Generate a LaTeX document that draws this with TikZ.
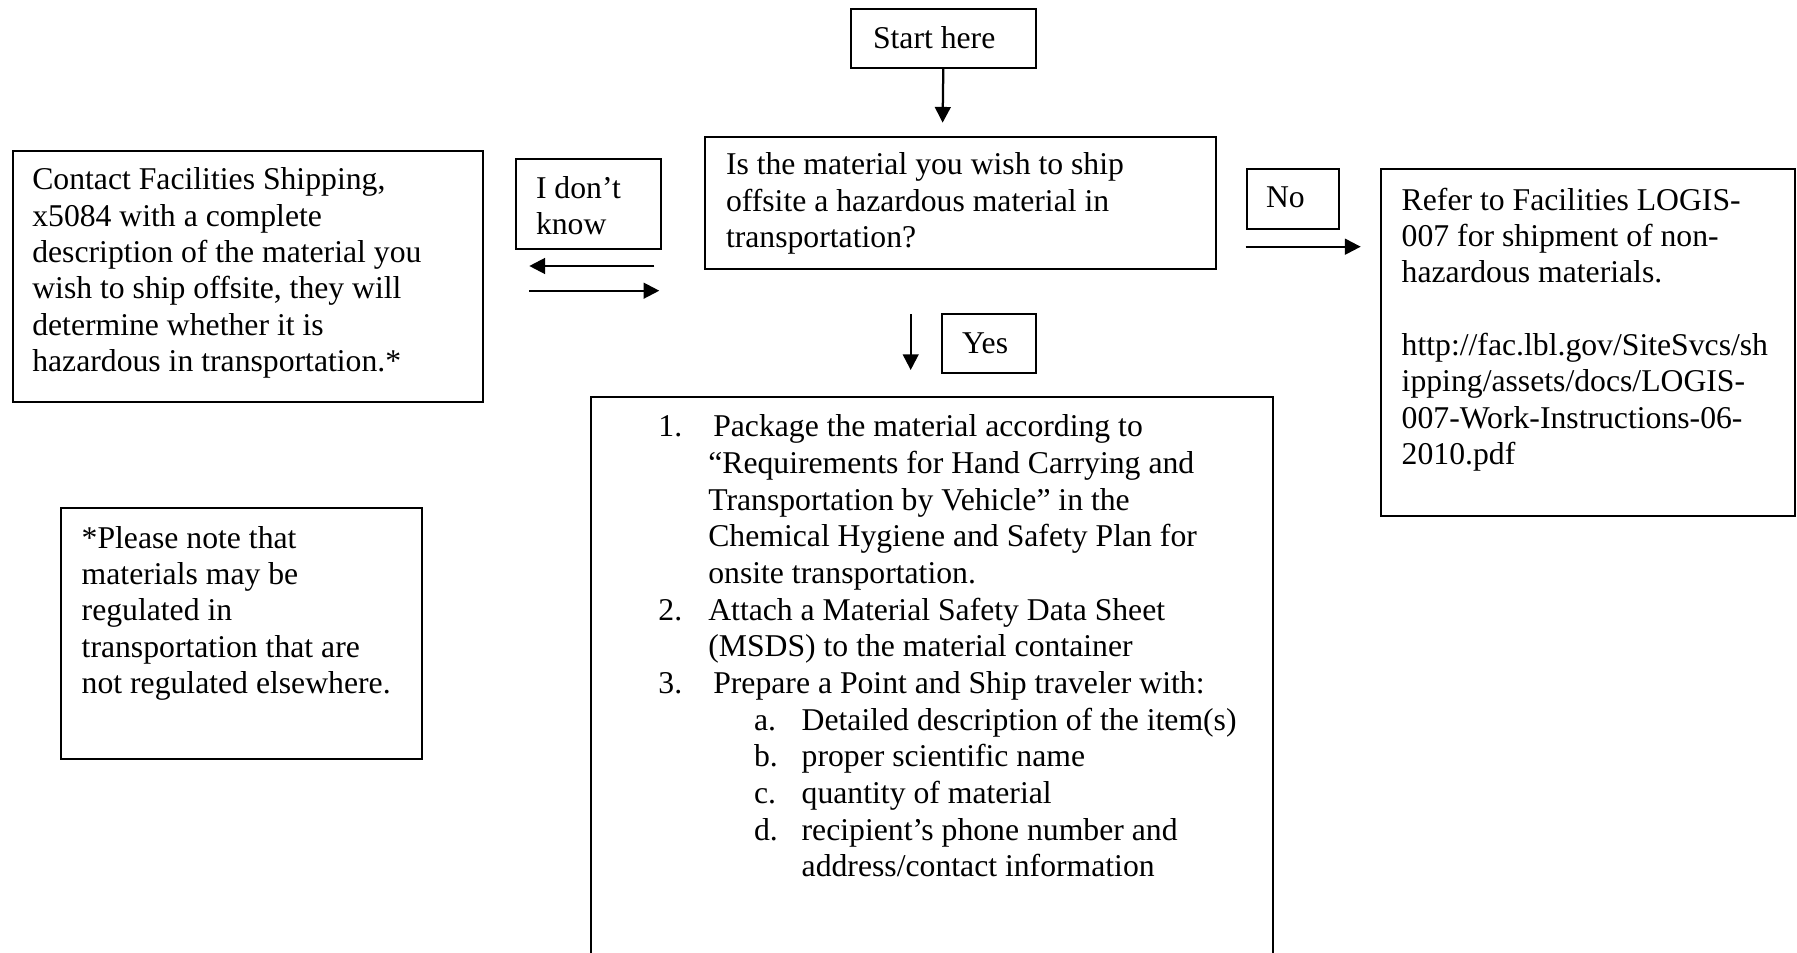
\documentclass[tikz,border=0pt]{standalone}
\usepackage{fontspec}
\setmainfont{Liberation Serif}[Ligatures=CommonOff]
\usetikzlibrary{arrows.meta}
\newcommand{\ft}{\fontsize{12.68pt}{14.52pt}\selectfont}
\newcommand{\fl}{\fontsize{12.68pt}{14.67pt}\selectfont}
\tikzset{
  box/.style={draw, line width=0.8pt, inner sep=0pt, anchor=north west},
  arr/.style={-{Triangle[length=6.3pt,width=6.3pt]}, line width=0.9pt},
  txt/.style={anchor=base west, inner sep=0pt, outer sep=0pt},
}
\begin{document}
\begin{tikzpicture}[x=0.4pt, y=-0.4pt]
\useasboundingbox (0,0) rectangle (1797,952);
% boxes
\node[box, minimum width=74.16pt, minimum height=23.36pt] (start) at (849.6,8.3) {};
\node[box, minimum width=204.4pt, minimum height=52.68pt] (question) at (704,136) {};
\node[box, minimum width=58pt, minimum height=35.76pt] (dontknow) at (515,158.3) {};
\node[box, minimum width=188.24pt, minimum height=100.28pt] (contact) at (11.7,150) {};
\node[box, minimum width=37pt, minimum height=24pt] (no) at (1245.5,167.7) {};
\node[box, minimum width=165.6pt, minimum height=138.68pt] (refer) at (1380,168.3) {};
\node[box, minimum width=37.44pt, minimum height=23.36pt] (yes) at (941.4,313.3) {};
\node[box, minimum width=273pt, minimum height=224pt] (steps) at (589.5,396) {};
\node[box, minimum width=144.4pt, minimum height=100.4pt] (note) at (60,507.3) {};
% texts
\node[txt] (tstart) at (873,48.3) {\ft Start here};
\node[txt] (tq) at (726,175) {\parbox[t]{300pt}{\raggedright\ft Is the material you wish to ship\\offsite a hazardous material in\\transportation?}};
\node[txt] (tdk) at (536,198.3) {\parbox[t]{100pt}{\raggedright\ft I don’t\\know}};
\node[txt] (tcontact) at (32.3,190) {\parbox[t]{300pt}{\raggedright\ft Contact Facilities Shipping,\\x5084 with a complete\\description of the material you\\wish to ship offsite, they will\\determine whether it is\\hazardous in transportation.*}};
\node[txt] (tno) at (1266,207.7) {\ft No};
\node[txt] (tyes) at (962,353.3) {\ft Yes};
\node[txt] (trefer) at (1401.7,210.3) {\parbox[t]{300pt}{\raggedright\ft Refer to Facilities LOGIS-\\007 for shipment of non-\\hazardous materials.\\[14.52pt]http://fac.lbl.gov/SiteSvcs/sh\\ipping/assets/docs/LOGIS-\\007-Work-Instructions-06-\\2010.pdf}};
\node[txt] (tnote) at (81.7,548.3) {\parbox[t]{300pt}{\raggedright\ft *Please note that\\materials may be\\regulated in\\transportation that are\\not regulated elsewhere.}};
\node[txt] (tsteps) at (658.4,436.7) {\parbox[t]{400pt}{\raggedright\fl
\makebox[19.96pt][l]{1.}\hspace{2pt}Package the material according to\\
\hspace*{19.96pt}“Requirements for Hand Carrying and\\
\hspace*{19.96pt}Transportation by Vehicle” in the\\
\hspace*{19.96pt}Chemical Hygiene and Safety Plan for\\
\hspace*{19.96pt}onsite transportation.\\
\makebox[19.96pt][l]{2.}Attach a Material Safety Data Sheet\\
\hspace*{19.96pt}(MSDS) to the material container\\
\makebox[19.96pt][l]{3.}\hspace{2pt}Prepare a Point and Ship traveler with:\\
\hspace*{38.24pt}\makebox[19.08pt][l]{a.}Detailed description of the item(s)\\
\hspace*{38.24pt}\makebox[19.08pt][l]{b.}proper scientific name\\
\hspace*{38.24pt}\makebox[19.08pt][l]{c.}quantity of material\\
\hspace*{38.24pt}\makebox[19.08pt][l]{d.}recipient’s phone number and\\
\hspace*{57.32pt}address/contact information}};
% arrow ends
\coordinate (qin) at (942.6,122.7);
\coordinate (lfrom) at (654.3,266);
\coordinate (lto) at (529.3,266);
\coordinate (rfrom) at (529.3,290.7);
\coordinate (rto) at (659.3,290.7);
\coordinate (nofrom) at (1245.5,246.7);
\coordinate (noto) at (1360.7,246.7);
\coordinate (yesfrom) at (910.7,314.3);
\coordinate (yesto) at (910.7,370);
% connectors
\draw[arr] (start.south) -- (qin);
\draw[arr] (lfrom) -- (lto);
\draw[arr] (rfrom) -- (rto);
\draw[arr] (nofrom) -- (noto);
\draw[arr] (yesfrom) -- (yesto);
\end{tikzpicture}
\end{document}
